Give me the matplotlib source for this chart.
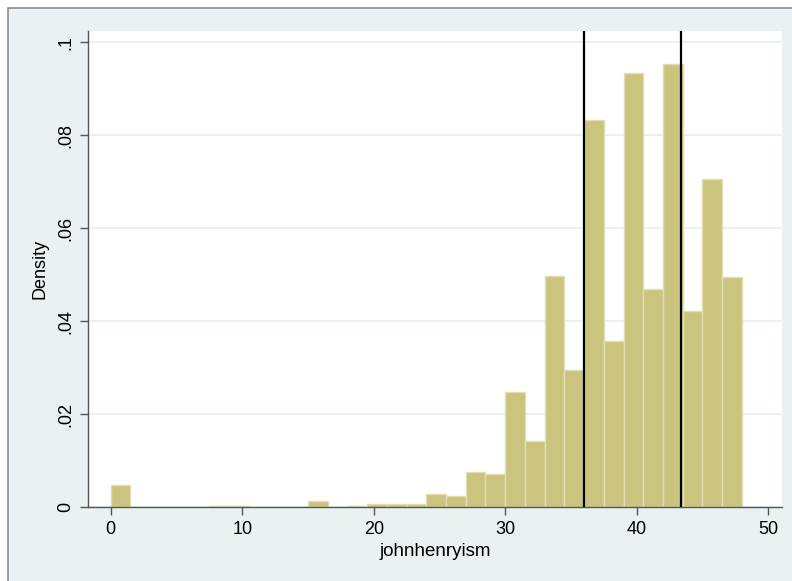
import matplotlib
matplotlib.use("Agg")
import matplotlib.pyplot as plt
from matplotlib.patches import Rectangle

plt.rcParams['font.family'] = ['Liberation Sans', 'DejaVu Sans']

# histogram of johnhenryism, bins of width 1.5 from 0 to 48
bin_width = 1.5
bin_left = [i * bin_width for i in range(32)]
density = [0.0048, 0, 0, 0, 0, 0.0003, 0.0003, 0, 0, 0,
           0.0012, 0, 0.0003, 0.0007, 0.0007, 0.0007, 0.0028, 0.0023, 0.0075, 0.0072,
           0.0247, 0.0142, 0.0497, 0.0295, 0.0833, 0.0358, 0.0933, 0.0470, 0.0953, 0.0421,
           0.0705, 0.0494]
vlines = [36.0, 43.35]
xticks = [0, 10, 20, 30, 40, 50]
yticks = [0, 0.02, 0.04, 0.06, 0.08, 0.1]
ytick_labels = ["0", ".02", ".04", ".06", ".08", ".1"]

bg = '#EAF1F3'
fig = plt.figure(figsize=(7.92, 5.81), dpi=100)
fig.patch.set_facecolor('white')
fig.add_artist(Rectangle((8 / 792, -0.01), 1.0, 1 - 8 / 581 + 0.01,
                         transform=fig.transFigure, facecolor=bg,
                         edgecolor='#8c8c8c', linewidth=1.2, zorder=-10))

ax = fig.add_axes([88 / 792, 1 - 507 / 581, (782 - 88) / 792, (507 - 31) / 581])
ax.set_zorder(1)
ax.set_facecolor('white')

ax.bar(bin_left, density, width=bin_width, align='edge',
       color='#CAC47F', edgecolor='#E2DEB2', linewidth=1.0, zorder=2)
for v in vlines:
    ax.axvline(v, color='black', linewidth=1.6, zorder=3)

ax.set_xlim(-1.73, 51.05)
ax.set_ylim(0, 0.1024)
ax.set_xticks(xticks)
ax.set_yticks(yticks)
ax.set_yticklabels(ytick_labels, rotation=90, va='center')
ax.yaxis.grid(True, color=bg, linewidth=1.4, zorder=1)
ax.set_axisbelow(True)

for s in ['top', 'right']:
    ax.spines[s].set_visible(False)
for s in ['left', 'bottom']:
    ax.spines[s].set_color('#555555')
    ax.spines[s].set_linewidth(1.0)
ax.tick_params(axis='both', direction='out', length=6, width=1.0,
               color='#555555', labelsize=13, labelcolor='black', pad=4)

ax.set_xlabel('johnhenryism', fontsize=13.5, labelpad=4)
ax.set_ylabel('Density', fontsize=13, labelpad=6)

fig.savefig('out.png', dpi=100, facecolor=fig.get_facecolor())
